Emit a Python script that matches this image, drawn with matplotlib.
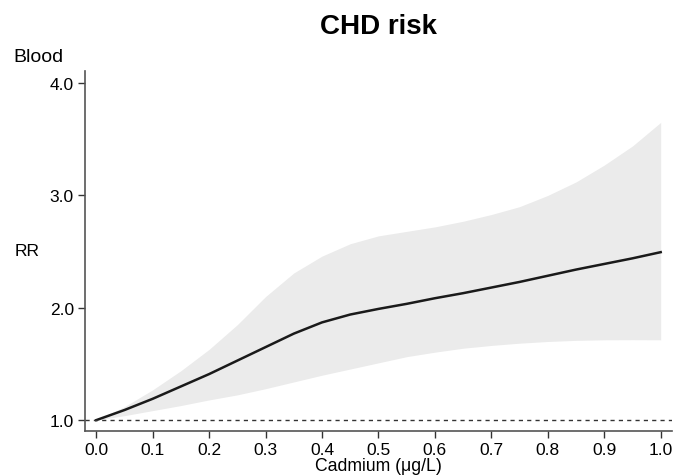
import matplotlib
matplotlib.use('Agg')
import matplotlib.pyplot as plt

# Cadmium dose-response
cadmium = [0.0, 0.05, 0.1, 0.15, 0.2, 0.25, 0.3, 0.35, 0.4, 0.45, 0.5,
           0.55, 0.6, 0.65, 0.7, 0.75, 0.8, 0.85, 0.9, 0.95, 1.0]
rr = [1.0, 1.09, 1.19, 1.30, 1.41, 1.53, 1.65, 1.77, 1.87, 1.94, 1.99,
      2.035, 2.085, 2.13, 2.18, 2.23, 2.285, 2.34, 2.39, 2.44, 2.495]
upper = [1.0, 1.12, 1.27, 1.44, 1.63, 1.85, 2.10, 2.31, 2.46, 2.57, 2.64,
         2.68, 2.72, 2.77, 2.83, 2.90, 3.00, 3.12, 3.27, 3.44, 3.65]
lower = [1.0, 1.04, 1.085, 1.13, 1.18, 1.225, 1.28, 1.34, 1.40, 1.455, 1.51,
         1.565, 1.605, 1.64, 1.665, 1.685, 1.70, 1.71, 1.715, 1.716, 1.715]

xticks = [0.0, 0.1, 0.2, 0.3, 0.4, 0.5, 0.6, 0.7, 0.8, 0.9, 1.0]
yticks = [1.0, 2.0, 3.0, 4.0]

plt.rcParams['font.family'] = ['Liberation Sans', 'DejaVu Sans']

fig = plt.figure(figsize=(6.85, 4.77), dpi=100)
ax = fig.add_axes([0.124, 0.094, 0.857, 0.755])

ax.fill_between(cadmium, lower, upper, color='#ebebeb', linewidth=0)
ax.plot(cadmium, rr, color='#1a1a1a', linewidth=1.8)
ax.axhline(1.0, color='#333333', linewidth=1.0, linestyle=(0, (3, 3)))

ax.set_xlim(-0.02, 1.02)
ax.set_ylim(0.902, 4.107)
ax.set_xticks(xticks)
ax.set_xticklabels(['%.1f' % t for t in xticks])
ax.set_yticks(yticks)
ax.set_yticklabels(['%.1f' % t for t in yticks])
ax.tick_params(labelsize=12.5, length=5, width=1, color='#333333', pad=3)

for s in ['top', 'right']:
    ax.spines[s].set_visible(False)
for s in ['left', 'bottom']:
    ax.spines[s].set_color('#555555')
    ax.spines[s].set_linewidth(1.2)

ax.set_xlabel('Cadmium (μg/L)', fontsize=12.7, labelpad=0)
fig.text(0.022, 0.472, 'RR', fontsize=12.5, va='center', ha='left')
fig.text(0.02, 0.88, 'Blood', fontsize=14, va='center', ha='left')
fig.text(0.552, 0.943, 'CHD risk', fontsize=20, fontweight='bold', ha='center', va='center')

fig.savefig('out.png', dpi=100)
